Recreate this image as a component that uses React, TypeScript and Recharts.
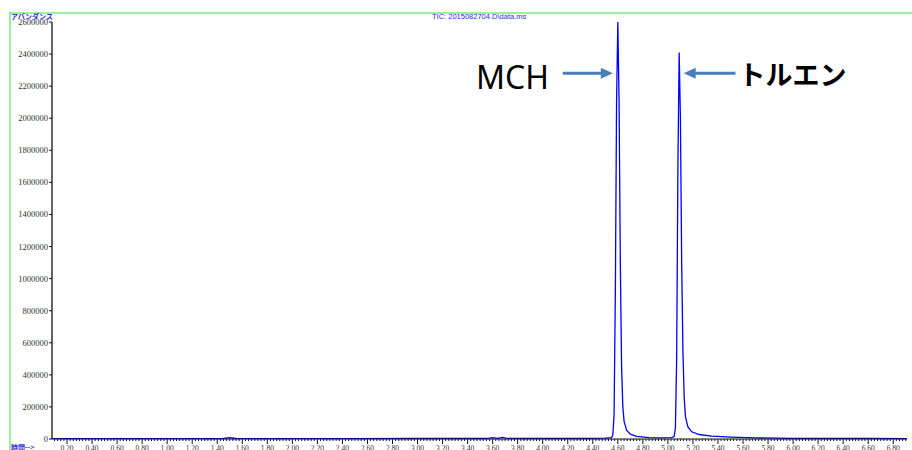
import React from "react";
import {
  LineChart,
  Line,
  XAxis,
  YAxis,
  ReferenceLine,
  ReferenceDot,
} from "recharts";

// retention time (min) and abundance
const times = [
  0.08, 0.5, 1.0, 1.45, 1.5, 1.55, 2.0, 2.5, 3.0, 3.55, 3.6, 3.64, 3.68, 3.72,
  4.0, 4.3, 4.5, 4.55, 4.56, 4.57, 4.58, 4.59, 4.6, 4.61, 4.62, 4.63, 4.64,
  4.65, 4.67, 4.7, 4.75, 4.85, 4.95, 5.03, 5.05, 5.06, 5.07, 5.08, 5.09, 5.1,
  5.11, 5.12, 5.13, 5.14, 5.16, 5.19, 5.25, 5.35, 5.5, 5.7, 6.0, 6.3, 6.6, 6.91,
];
const abundance = [
  2000, 2000, 2500, 3000, 8000, 3000, 2500, 2500, 3000, 3000, 9000, 4000,
  10000, 3000, 3000, 3500, 5000, 9000, 25000, 150000, 900000, 2100000, 2600000,
  2100000, 1100000, 450000, 200000, 110000, 55000, 30000, 16000, 9000, 7000,
  8000, 15000, 70000, 500000, 1700000, 2410000, 2000000, 1100000, 550000,
  260000, 140000, 75000, 45000, 28000, 18000, 12000, 7000, 4000, 3000, 3000,
  2500,
];

const yTicks = [
  0, 200000, 400000, 600000, 800000, 1000000, 1200000, 1400000, 1600000,
  1800000, 2000000, 2200000, 2400000, 2600000,
];
const xLabels = [
  "0.20", "0.40", "0.60", "0.80", "1.00", "1.20", "1.40", "1.60", "1.80",
  "2.00", "2.20", "2.40", "2.60", "2.80", "3.00", "3.20", "3.40", "3.60",
  "3.80", "4.00", "4.20", "4.40", "4.60", "4.80", "5.00", "5.20", "5.40",
  "5.60", "5.80", "6.00", "6.20", "6.40", "6.60", "6.80",
];
const xMinorTicks = Array.from({ length: 273 }, (_, i) => +(0.1 + i * 0.025).toFixed(3));
const xTicks = Array.from(new Set([...xMinorTicks, ...xLabels.map(Number)])).sort((a, b) => a - b);

const arrowY = 2280000;
const mchArrow = { from: 4.16, tip: 4.56 };
const tolArrow = { from: 5.54, tip: 5.126 };

const data = times.map((t, i) => ({ t, v: abundance[i] }));

const arrowColor = "#4a7ebb";
const traceBlue = "#0000ff";
const labelBlue = "#2a2ae0";

const XTick = (props: any) => {
  const { x, y, payload } = props;
  const v = payload.value as number;
  const label = xLabels.find((s) => Math.abs(Number(s) - v) < 1e-6);
  return (
    <g>
      <line x1={x} x2={x} y1={y} y2={y + (label ? 5 : 2)} stroke="#111" strokeWidth={1} />
      {label && (
        <text x={x} y={y + 12} textAnchor="middle" fontSize={7.5} fontFamily="Liberation Serif" fill="#333">
          {label}
        </text>
      )}
    </g>
  );
};

const Head = (dir: 1 | -1) => (props: any) => {
  const { cx, cy } = props;
  if (cx == null || cy == null) return <g />;
  const pts = `${cx},${cy} ${cx - dir * 12},${cy - 5.5} ${cx - dir * 12},${cy + 5.5}`;
  return <polygon points={pts} fill={arrowColor} />;
};

const TextMark = (text: string, anchor: "start" | "end", size: number, bold: boolean, family: string) => (props: any) => {
  const { cx, cy } = props;
  if (cx == null || cy == null) return <g />;
  return (
    <text x={cx} y={cy} textAnchor={anchor} fontSize={size} fontWeight={bold ? 700 : 400} fontFamily={family} fill="#000">
      {text}
    </text>
  );
};

export default function App() {
  return (
    <div style={{ position: "absolute", left: 0, top: 0, width: 912, height: 450, background: "#fff", overflow: "hidden" }}>
      <div
        style={{
          position: "absolute",
          left: 9,
          top: 12,
          width: 920,
          height: 460,
          borderLeft: "2px solid #9cf09c",
          borderTop: "2px solid #9cf09c",
        }}
      />
      <LineChart
        width={912}
        height={450}
        data={data}
        margin={{ top: 22, right: 5, bottom: 0, left: 0 }}
      >
        <XAxis
          dataKey="t"
          type="number"
          domain={[0.08, 6.91]}
          allowDataOverflow
          ticks={xTicks}
          interval={0}
          tick={<XTick />}
          tickLine={false}
          tickSize={0}
          tickMargin={0}
          height={11}
          axisLine={{ stroke: "#111", strokeWidth: 1 }}
        />
        <YAxis
          type="number"
          domain={[0, 2600000]}
          allowDataOverflow
          ticks={yTicks}
          interval={0}
          width={52}
          tickSize={3}
          tickMargin={1}
          tick={{ fontSize: 8.5, fontFamily: "Liberation Serif", fill: "#333" }}
          tickLine={{ stroke: "#111" }}
          axisLine={{ stroke: "#333", strokeWidth: 1.5 }}
        />
        <Line
          type="linear"
          dataKey="v"
          stroke={traceBlue}
          strokeWidth={1.3}
          dot={false}
          isAnimationActive={false}
        />
        <ReferenceLine
          segment={[{ x: mchArrow.from, y: arrowY }, { x: mchArrow.tip - 0.08, y: arrowY }]}
          stroke={arrowColor}
          strokeWidth={3}
        />
        <ReferenceDot x={mchArrow.tip} y={arrowY} r={0} shape={Head(1)} />
        <ReferenceLine
          segment={[{ x: tolArrow.from, y: arrowY }, { x: tolArrow.tip + 0.08, y: arrowY }]}
          stroke={arrowColor}
          strokeWidth={3}
        />
        <ReferenceDot x={tolArrow.tip} y={arrowY} r={0} shape={Head(-1)} />
        <ReferenceDot x={4.05} y={2180000} r={0} shape={TextMark("MCH", "end", 32, false, "Noto Sans")} />
        <ReferenceDot x={5.564} y={2205000} r={0} shape={TextMark("トルエン", "start", 27, true, "Noto Sans CJK JP")} />
      </LineChart>
      <div style={{ position: "absolute", left: 11, top: 12, fontSize: 7, fontWeight: 700, color: labelBlue, fontFamily: "Noto Sans CJK JP", lineHeight: "9px" }}>
        アバンダンス
      </div>
      <div style={{ position: "absolute", left: 432, top: 12, fontSize: 7.5, color: labelBlue, fontFamily: "Liberation Sans", lineHeight: "10px" }}>
        TIC: 2015082704.D\data.ms
      </div>
      <div style={{ position: "absolute", left: 11, top: 442, fontSize: 7, fontWeight: 700, color: labelBlue, fontFamily: "Noto Sans CJK JP", lineHeight: "10px" }}>
        時間--&gt;
      </div>
    </div>
  );
}
